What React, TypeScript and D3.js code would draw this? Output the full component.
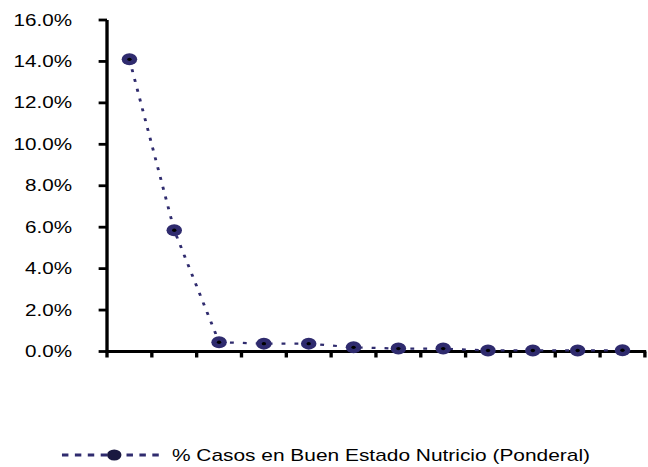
import React from "react";
import * as d3 from "d3";

const categories = ["1", "2", "3", "4", "5", "6", "7", "8", "9", "10", "11", "12"];
const values = [14.1, 5.85, 0.45, 0.38, 0.38, 0.2, 0.14, 0.14, 0.05, 0.05, 0.05, 0.06];
const yTicks = [0, 2, 4, 6, 8, 10, 12, 14, 16];
const seriesName = "% Casos en Buen Estado Nutricio (Ponderal)";

const VBW = 502;
const VBH = 467;
const NAVY = "#2f2b6e";

export default function App() {
  const x = d3.scaleBand<string>().domain(categories).range([82.9, 499.6]);
  const y = d3.scaleLinear().domain([0, 16]).range([351.5, 20]);
  const line = d3
    .line<number>()
    .x((_, i) => (x(categories[i]) as number) + x.bandwidth() / 2)
    .y((d) => y(d));
  const xTickPos = categories.map((c) => x(c) as number).concat([x.range()[1]]);
  const font = "'Liberation Sans', Arial, sans-serif";
  return (
    <svg
      width={648}
      height={467}
      viewBox={`0 0 ${VBW} ${VBH}`}
      preserveAspectRatio="none"
      style={{ position: "absolute", left: 0, top: 0, background: "#fff" }}
    >
      {/* y axis */}
      <line x1={x.range()[0]} x2={x.range()[0]} y1={y(16)} y2={y(0) + 1.4} stroke="#000" strokeWidth={2.6} />
      {yTicks.map((t) => (
        <g key={t}>
          <line x1={x.range()[0] - 6.5} x2={x.range()[0]} y1={y(t)} y2={y(t)} stroke="#000" strokeWidth={2.8} />
          <text
            x={55.8}
            y={y(t)}
            textAnchor="end"
            dominantBaseline="central"
            fontFamily={font}
            fontSize={16}
            fill="#000"
          >
            {t.toFixed(1) + "%"}
          </text>
        </g>
      ))}
      {/* x axis */}
      <line x1={x.range()[0] - 1} x2={x.range()[1] + 1} y1={y(0)} y2={y(0)} stroke="#000" strokeWidth={2.8} />
      {xTickPos.map((p, i) => (
        <line key={i} x1={p} x2={p} y1={y(0)} y2={y(0) + 6} stroke="#000" strokeWidth={2.6} />
      ))}
      {/* series line */}
      <path d={line(values) || ""} fill="none" stroke={NAVY} strokeWidth={2.2} strokeDasharray="3,7" />
      {values.map((v, i) => {
        const cx = (x(categories[i]) as number) + x.bandwidth() / 2;
        const cy = y(v);
        return (
          <g key={i}>
            <circle cx={cx} cy={cy} r={6} fill={NAVY} />
            <circle cx={cx} cy={cy} r={1.7} fill="#000" />
          </g>
        );
      })}
      {/* legend */}
      <g>
        <line x1={48} x2={124} y1={455} y2={455} stroke={NAVY} strokeWidth={3} strokeDasharray="5,5" />
        <circle cx={88.5} cy={455} r={5.6} fill="#1a1840" />
        <text x={133.2} y={455} dominantBaseline="central" fontFamily={font} fontSize={16.2} fill="#000">
          {seriesName}
        </text>
      </g>
    </svg>
  );
}
